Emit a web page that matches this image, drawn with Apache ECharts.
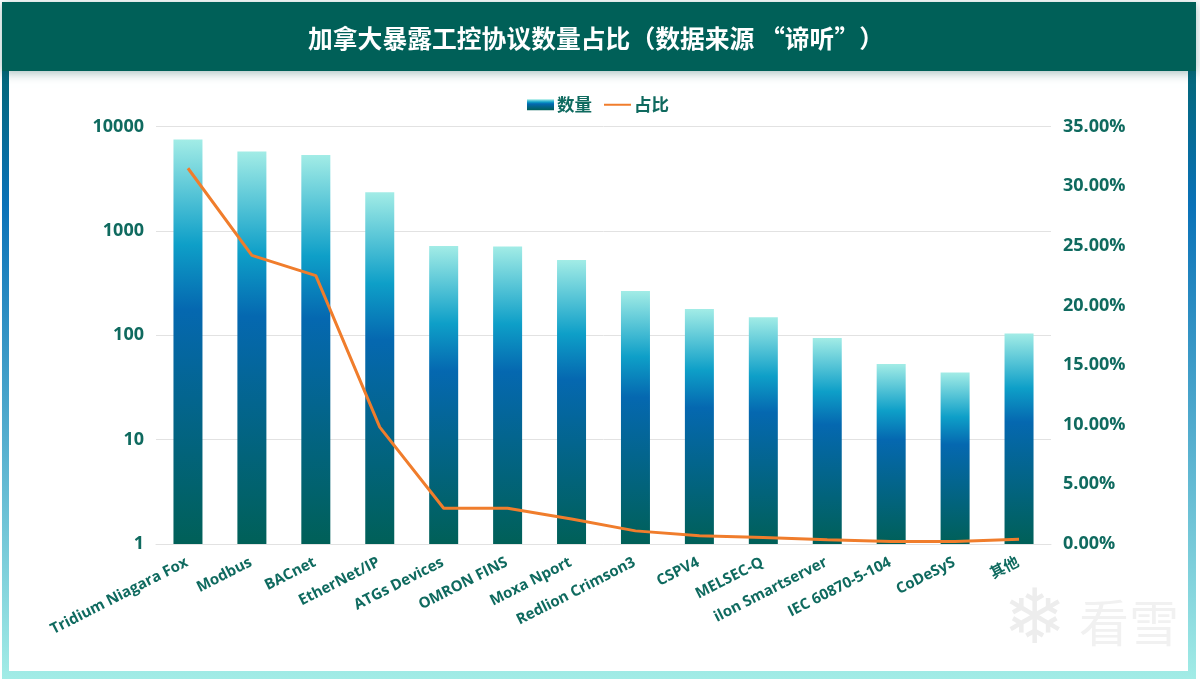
<!DOCTYPE html>
<html>
<head>
<meta charset="utf-8">
<style>
html, body { margin: 0; padding: 0; background: #fff; }
#chart { width: 1200px; height: 683px; }
</style>
<script src="https://cdn.jsdelivr.net/npm/echarts@6/dist/echarts.min.js"></script>
</head>
<body>
<div id="chart"></div>
<script>
var categories = ['Tridium Niagara Fox', 'Modbus', 'BACnet', 'EtherNet/IP', 'ATGs Devices', 'OMRON FINS', 'Moxa Nport', 'Redlion Crimson3', 'CSPV4', 'MELSEC-Q', 'ilon Smartserver', 'IEC 60870-5-104', 'CoDeSyS', '其他'];
var counts = [7500, 5750, 5320, 2350, 715, 708, 525, 265, 178, 149, 94, 53, 44, 104];
var shares = [31.5, 24.2, 22.5, 9.8, 3.0, 3.0, 2.1, 1.1, 0.7, 0.55, 0.35, 0.2, 0.2, 0.4];
var titleText = '加拿大暴露工控协议数量占比（数据来源 “谛听”）';

var font = '"Open Sans", "Noto Sans CJK SC", sans-serif';
var cjk = '"Noto Sans CJK SC", "Noto Sans", sans-serif';
var dark = '#006058';
var textColor = '#0f6a5f';

function vgrad(stops) {
    return new echarts.graphic.LinearGradient(0, 0, 0, 1, stops);
}

var myChart = echarts.init(document.getElementById('chart'));
var option = {
    animation: false,
    title: {
        text: titleText,
        left: 591,
        top: 17,
        textAlign: 'center',
        textStyle: { color: '#fff', fontFamily: cjk, fontSize: 24.8, fontWeight: 'bold', lineHeight: 34 }
    },
    legend: {
        top: 91,
        left: 522,
        itemWidth: 27,
        itemHeight: 11,
        itemGap: 11,
        textStyle: { color: textColor, fontFamily: cjk, fontSize: 17.5, fontWeight: 'bold', padding: [0, 0, 0, -2] },
        data: [
            { name: '数量', icon: 'rect' },
            { name: '占比', itemStyle: { opacity: 0 } }
        ]
    },
    grid: { left: 156, right: 149, top: 126.5, bottom: 139, containLabel: false },
    xAxis: {
        type: 'category',
        data: categories,
        axisTick: { show: false },
        axisLine: { lineStyle: { color: '#e2e2e2', width: 1 } },
        axisLabel: {
            interval: 0,
            rotate: 27,
            margin: 17,
            padding: [0, 1, 0, 0],
            color: textColor,
            fontFamily: font,
            fontSize: 15,
            fontWeight: 'bold'
        }
    },
    yAxis: [
        {
            type: 'log',
            logBase: 10,
            min: 1,
            max: 10000,
            axisLine: { show: false },
            axisTick: { show: false },
            minorTick: { show: false },
            splitLine: { show: true, lineStyle: { color: '#e2e2e2', width: 1 } },
            axisLabel: {
                margin: 12,
                color: textColor,
                fontFamily: font,
                fontSize: 18,
                fontWeight: 'bold',
                formatter: function (v) { return String(Math.round(v)); }
            }
        },
        {
            type: 'value',
            min: 0,
            max: 35,
            interval: 5,
            axisLine: { show: false },
            axisTick: { show: false },
            splitLine: { show: false },
            axisLabel: {
                margin: 12,
                color: textColor,
                fontFamily: font,
                fontSize: 18,
                fontWeight: 'bold',
                formatter: function (v) { return v.toFixed(2) + '%'; }
            }
        }
    ],
    series: [
        {
            name: '数量',
            type: 'bar',
            data: counts,
            barWidth: 29,
            itemStyle: {
                color: vgrad([
                    { offset: 0, color: '#a2ece6' },
                    { offset: 0.26, color: '#0e9fc8' },
                    { offset: 0.42, color: '#0568b0' },
                    { offset: 1, color: dark }
                ])
            }
        },
        {
            name: '占比',
            type: 'line',
            yAxisIndex: 1,
            data: shares,
            showSymbol: false,
            symbol: 'none',
            lineStyle: { color: '#f07d2c', width: 3 },
            itemStyle: { color: '#f07d2c' }
        }
    ],
    graphic: [
        // 外框渐变
        {
            type: 'rect', z: -10, silent: true,
            shape: { x: 2, y: 2, width: 1194, height: 677 },
            style: {
                fill: vgrad([
                    { offset: 0, color: dark },
                    { offset: 0.3, color: '#0a72b8' },
                    { offset: 1, color: '#a2ece6' }
                ])
            }
        },
        // 白色内容区
        {
            type: 'rect', z: -9, silent: true,
            shape: { x: 9, y: 60, width: 1179, height: 611 },
            style: { fill: '#fff' }
        },
        // 标题栏
        {
            type: 'rect', z: -8, silent: true,
            shape: { x: 2, y: 2, width: 1194, height: 69 },
            style: { fill: dark, shadowBlur: 10, shadowColor: 'rgba(0,70,65,0.35)', shadowOffsetY: 2 }
        },
        // 水印
        {
            type: 'text', z: -7, silent: true,
            style: { x: 1003, y: 585, text: '❄', fill: '#ededed', font: '76px "DejaVu Sans"' }
        },
        {
            type: 'text', z: -7, silent: true,
            style: { x: 1079, y: 598, text: '看雪', fill: '#f1f1f1', font: '50px ' + cjk }
        }
    ]
};
myChart.setOption(option);
</script>
</body>
</html>
